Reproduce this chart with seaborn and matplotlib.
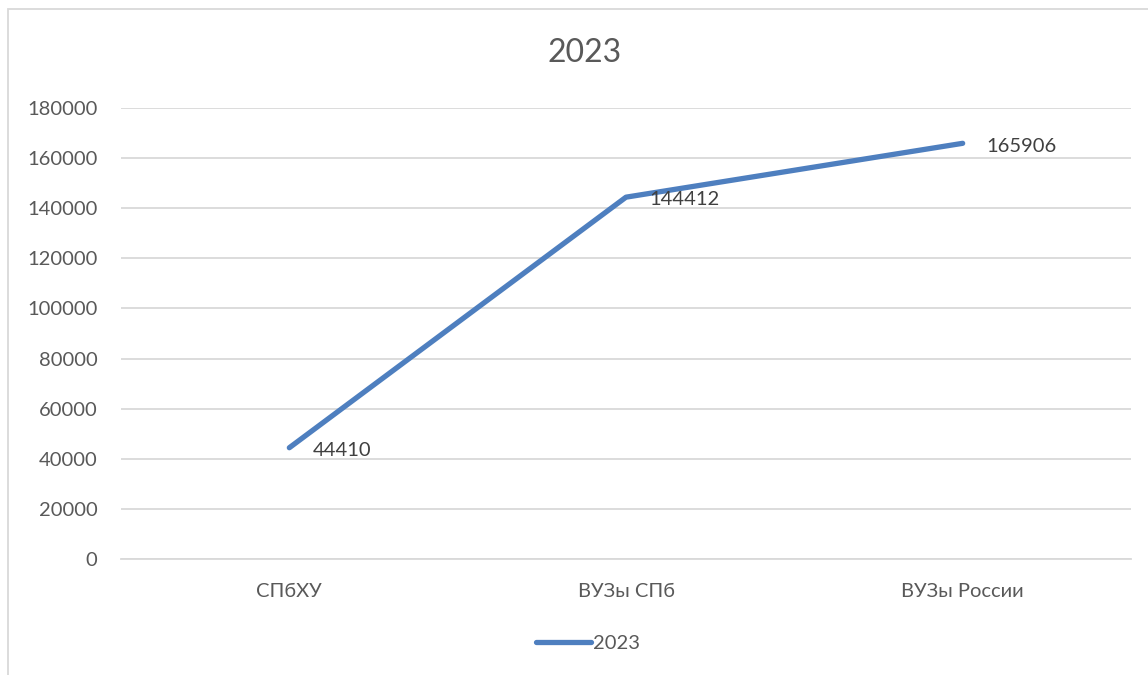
import matplotlib
matplotlib.use("Agg")
import matplotlib.pyplot as plt
from matplotlib.patches import Rectangle
import seaborn as sns
import pandas as pd

categories = ["СПбХУ", "ВУЗы СПб", "ВУЗы России"]
values_2023 = [44410, 144412, 165906]
series_name = "2023"
y_ticks = [0, 20000, 40000, 60000, 80000, 100000, 120000, 140000, 160000, 180000]

df = pd.DataFrame({"cat": categories, "val": values_2023})

sns.set_theme(style="white")
plt.rcParams['font.family'] = ['Lato', 'DejaVu Sans']

W, H = 1148, 675
fig = plt.figure(figsize=(W / 100, H / 100), dpi=100)
ax = fig.add_axes([121 / W, 1 - 559 / H, (1131 - 121) / W, (559 - 108) / H])

line_color = "#4E7FBF"
text_color = "#595959"
grid_color = "#D9D9D9"

sns.lineplot(data=df, x="cat", y="val", ax=ax, color=line_color, linewidth=3.8,
             sort=False, label=series_name, solid_capstyle="round")

ax.set_xlim(-0.5, len(categories) - 0.5)
ax.set_ylim(0, 180000)
ax.set_yticks(y_ticks)
ax.set_yticklabels([str(t) for t in y_ticks])
ax.yaxis.grid(True, color=grid_color, linewidth=1.3)
ax.xaxis.grid(False)
ax.set_axisbelow(True)
for s in ["top", "right", "left"]:
    ax.spines[s].set_visible(False)
ax.spines["bottom"].set_color(grid_color)
ax.spines["bottom"].set_linewidth(1.3)
ax.tick_params(axis="y", length=0, pad=17, labelsize=14.5, labelcolor=text_color)
ax.tick_params(axis="x", length=0, pad=17, labelsize=14.5, labelcolor=text_color)
ax.set_xlabel("")
ax.set_ylabel("")

for i, v in enumerate(values_2023):
    ax.annotate(str(v), (i, v), xytext=(17, -2), textcoords="offset points",
                ha="left", va="center", fontsize=14.5, color="#404040")

ax.get_legend().remove()
handles, labels = ax.get_legend_handles_labels()
leg = fig.legend(handles, labels, loc="center", bbox_to_anchor=(588 / W, 1 - 643 / H),
                 frameon=False, fontsize=14.5, handlelength=2.7, handletextpad=0.1,
                 labelcolor=text_color)

fig.text(585 / W, 1 - 53 / H, "2023", ha="center", va="center", fontsize=23, color=text_color)

fig.add_artist(Rectangle((8 / W, -0.1), 1.2, 1 - 9 / H + 0.1, transform=fig.transFigure,
                         fill=False, edgecolor=grid_color, linewidth=1.3))

fig.savefig("out.png", dpi=100, facecolor="white")
